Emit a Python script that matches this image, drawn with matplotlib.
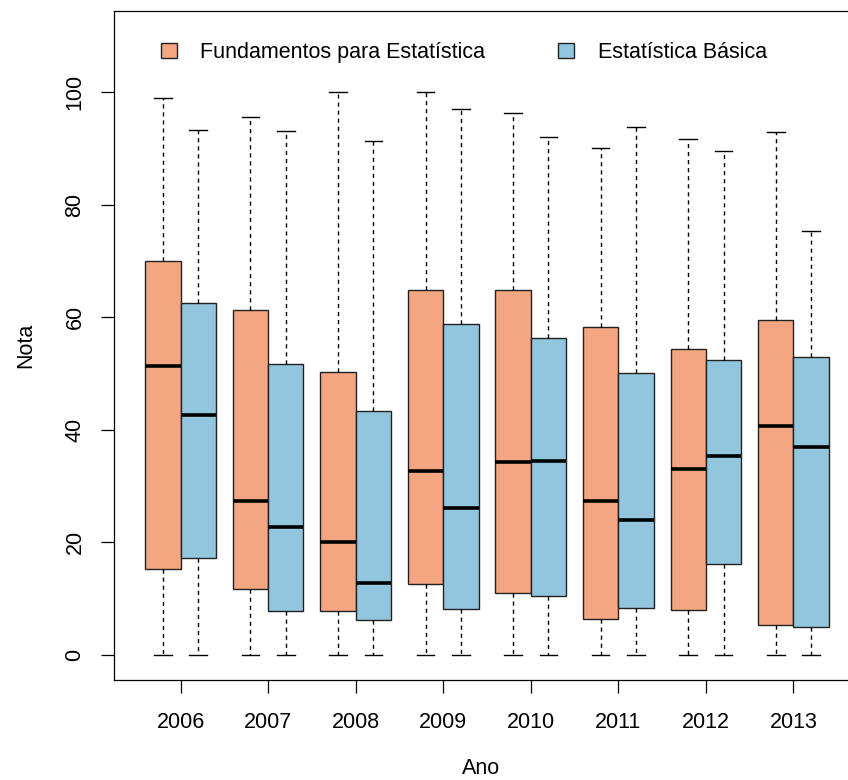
import matplotlib
matplotlib.use("Agg")
import matplotlib.pyplot as plt
from matplotlib.patches import Patch

plt.rcParams['font.family'] = ['Liberation Sans', 'DejaVu Sans']

# Grades per year for the two courses (five-number summaries)
years = ["2006", "2007", "2008", "2009", "2010", "2011", "2012", "2013"]

fund_low = [0, 0, 0, 0, 0, 0, 0, 0]
fund_q1 = [15.2, 11.7, 7.8, 12.6, 10.9, 6.4, 8.0, 5.3]
fund_med = [51.3, 27.4, 20.0, 32.7, 34.2, 27.4, 33.0, 40.7]
fund_q3 = [70.0, 61.3, 50.3, 64.8, 64.8, 58.3, 54.4, 59.4]
fund_high = [99.0, 95.6, 100.0, 100.0, 96.3, 90.0, 91.7, 92.9]

basic_low = [0, 0, 0, 0, 0, 0, 0, 0]
basic_q1 = [17.2, 7.8, 6.1, 8.2, 10.5, 8.3, 16.1, 5.0]
basic_med = [42.6, 22.7, 12.7, 26.0, 34.5, 24.0, 35.3, 37.0]
basic_q3 = [62.5, 51.7, 43.3, 58.7, 56.2, 50.1, 52.3, 53.0]
basic_high = [93.3, 93.0, 91.3, 97.0, 92.0, 93.7, 89.6, 75.3]

series_labels = ["Fundamentos para Estatística", "Estatística Básica"]
series_colors = ["#F4A582", "#92C5DE"]


def make_stats(low, q1, med, q3, high):
    return [dict(whislo=a, q1=b, med=c, q3=d, whishi=e, fliers=[])
            for a, b, c, d, e in zip(low, q1, med, q3, high)]


fig = plt.figure(figsize=(8.48, 7.80), dpi=100)
ax = fig.add_axes([114 / 848, 1 - 679.5 / 780, 746 / 848, 668.5 / 780])

centers = list(range(1, len(years) + 1))
half = 0.202
width = 0.404

groups = [
    (make_stats(fund_low, fund_q1, fund_med, fund_q3, fund_high), -half, series_colors[0]),
    (make_stats(basic_low, basic_q1, basic_med, basic_q3, basic_high), half, series_colors[1]),
]

for stats, offset, color in groups:
    ax.bxp(stats,
           positions=[c + offset for c in centers],
           widths=width,
           patch_artist=True,
           showfliers=False,
           manage_ticks=False,
           boxprops=dict(facecolor=color, edgecolor="#222222", linewidth=1.0),
           medianprops=dict(color="black", linewidth=2.6, solid_capstyle="butt"),
           whiskerprops=dict(color="black", linewidth=1.0, linestyle=(0, (3.0, 2.8))),
           capprops=dict(color="black", linewidth=1.0),
           capwidths=width / 2)

ax.set_xlim(0.24, 8.76)
ax.set_ylim(-4.4, 114.4)

ax.set_xticks(centers)
ax.set_xticklabels(years)
ax.set_yticks([0, 20, 40, 60, 80, 100])
ax.set_yticklabels(["0", "20", "40", "60", "80", "100"], rotation=90, va="center")

ax.tick_params(axis="both", which="major", length=9.5, width=0.9, labelsize=15.5,
               direction="out", color="black")
ax.tick_params(axis="x", pad=14)
ax.tick_params(axis="y", pad=11)

for side in ["left", "bottom", "top", "right"]:
    ax.spines[side].set_linewidth(0.9)
    ax.spines[side].set_color("black")

ax.set_xlabel("Ano", fontsize=15.5)
ax.xaxis.set_label_coords(0.492, -0.118)
ax.set_ylabel("Nota", fontsize=15.5, labelpad=20)

handles = [Patch(facecolor=c, edgecolor="#222222", linewidth=1.0) for c in series_colors]
ax.legend(handles, series_labels, ncol=2, frameon=False, fontsize=15.5,
          loc="upper left", bbox_to_anchor=(161 / 848, 1 - 42 / 780),
          bbox_transform=fig.transFigure, borderpad=0, borderaxespad=0,
          handlelength=0.72, handleheight=0.72, handletextpad=1.1,
          columnspacing=3.4)

fig.savefig("out.png", dpi=100)
